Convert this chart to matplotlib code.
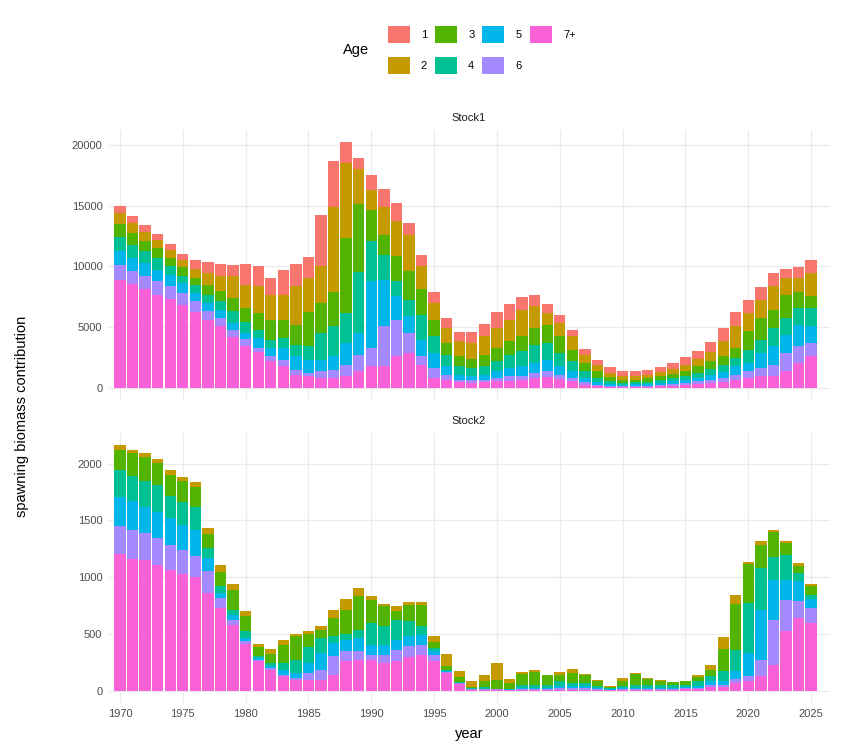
import matplotlib
matplotlib.use("Agg")
import matplotlib.pyplot as plt
from matplotlib.patches import Patch
import numpy as np

plt.rcParams["font.family"] = ["Liberation Sans", "DejaVu Sans"]

years = list(range(1970, 2026))
ages = ["1", "2", "3", "4", "5", "6", "7+"]
colors = ["#F8766D", "#C49A00", "#53B400", "#00C094", "#00B6EB", "#A58AFF", "#FB61D7"]

# ---- Stock1 contributions by age ----
s1_age1 = [600, 600, 550, 470, 470, 490, 710, 880, 1040, 960,
           1700, 1650, 1370, 2000, 1840, 1700, 4200, 3760, 1730, 910,
           1180, 1540, 1560, 960, 930, 960, 820, 740, 930, 1040,
           1290, 1320, 1100, 930, 770, 630, 550, 490, 410, 470,
           360, 360, 440, 410, 520, 600, 690, 770, 1100, 1180,
           1040, 1040, 1100, 770, 960, 1040]
s1_age2 = [880, 820, 740, 690, 690, 550, 740, 960, 1230, 1780,
           1920, 2190, 2060, 2060, 3150, 2830, 3020, 7000, 6170, 2850,
           1650, 2250, 2830, 3020, 1870, 1370, 1230, 1230, 1320, 1510,
           1650, 1780, 2190, 1780, 960, 1100, 1100, 690, 550, 330,
           330, 330, 270, 330, 410, 550, 600, 820, 1230, 1780,
           1510, 1510, 1920, 1370, 1100, 1870]
s1_age3 = [1100, 960, 900, 820, 690, 820, 550, 820, 820, 1100,
           1100, 1370, 1650, 1510, 1650, 2800, 2470, 2830, 6170, 5570,
           2610, 1650, 2110, 2330, 2110, 1370, 960, 820, 740, 960,
           1100, 1100, 1230, 1370, 1510, 1370, 960, 690, 550, 360,
           270, 220, 270, 330, 330, 410, 550, 630, 690, 820,
           1510, 1780, 1510, 1920, 1370, 1010]
s1_age4 = [1180, 1100, 960, 960, 690, 550, 690, 690, 690, 960,
           960, 690, 690, 820, 960, 1100, 2190, 2470, 2470, 5070,
           3290, 2060, 1230, 1370, 2060, 1370, 960, 690, 630, 690,
           820, 1100, 1230, 1510, 1370, 1100, 820, 550, 360, 220,
           140, 160, 190, 220, 270, 330, 410, 470, 600, 690,
           1100, 1100, 1510, 1370, 1370, 1510]
s1_age5 = [1100, 1100, 1100, 960, 960, 820, 690, 690, 690, 550,
           490, 820, 690, 960, 1100, 1100, 960, 1100, 1780, 1780,
           5490, 3840, 1920, 1370, 1370, 1230, 690, 410, 380, 410,
           550, 690, 770, 820, 960, 690, 550, 360, 190, 160,
           140, 140, 160, 160, 220, 220, 270, 410, 490, 690,
           690, 1230, 1510, 1510, 1780, 1370]
s1_age6 = [1230, 1010, 1040, 1150, 1040, 1010, 880, 740, 630, 600,
           600, 360, 410, 550, 410, 270, 550, 690, 960, 1370,
           1510, 3290, 3020, 1650, 690, 820, 410, 220, 220, 220,
           270, 360, 330, 410, 470, 360, 270, 190, 140, 80,
           55, 80, 80, 110, 160, 190, 250, 270, 330, 470,
           550, 690, 960, 1510, 1370, 1100]
s1_age7 = [8890, 8560, 8120, 7600, 7300, 6780, 6230, 5540, 5100, 4170,
           3400, 2910, 2170, 1760, 1070, 930, 800, 800, 930, 1340,
           1760, 1760, 2580, 2850, 1890, 800, 660, 440, 380, 440,
           520, 580, 660, 800, 880, 710, 520, 250, 110, 55,
           55, 55, 80, 110, 140, 190, 270, 380, 470, 600,
           800, 930, 930, 1340, 2030, 2580]

# ---- Stock2 contributions by age ----
s2_age1 = [0] * 56
s2_age2 = [44, 29, 35, 38, 38, 38, 44, 50, 62, 59,
           44, 29, 44, 38, 18, 21, 41, 68, 94, 68,
           41, 23, 44, 23, 21, 53, 106, 53, 50, 50,
           147, 35, 18, 15, 6, 26, 35, 6, 6, 6,
           29, 6, 9, 6, 6, 6, 15, 44, 103, 82,
           18, 29, 21, 21, 29, 15]
s2_age3 = [170, 200, 214, 191, 191, 185, 179, 126, 123, 170,
           132, 82, 79, 162, 211, 117, 68, 156, 211, 300,
           200, 176, 73, 147, 191, 50, 41, 38, 15, 59,
           76, 53, 97, 112, 82, 53, 88, 73, 44, 9,
           44, 97, 50, 32, 26, 29, 38, 53, 197, 402,
           344, 206, 223, 103, 59, 79]
s2_age4 = [241, 220, 226, 244, 191, 197, 197, 88, 59, 44,
           59, 15, 29, 59, 117, 141, 132, 65, 53, 73,
           191, 162, 176, 132, 73, 29, 9, 9, 6, 15,
           3, 3, 29, 29, 29, 44, 29, 29, 21, 9,
           18, 29, 29, 29, 23, 23, 38, 44, 88, 191,
           441, 367, 197, 220, 73, 38]
s2_age5 = [258, 256, 229, 226, 235, 220, 235, 117, 44, 44,
           29, 15, 15, 44, 44, 88, 147, 117, 103, 117,
           88, 88, 94, 88, 88, 29, 9, 6, 3, 3,
           3, 3, 9, 9, 9, 15, 15, 15, 9, 9,
           9, 9, 9, 9, 9, 9, 21, 35, 29, 68,
           206, 441, 352, 176, 176, 79]
s2_age6 = [241, 253, 235, 235, 220, 214, 182, 191, 88, 44,
           21, 15, 15, 15, 15, 59, 88, 162, 88, 73,
           44, 73, 97, 94, 88, 59, 6, 6, 3, 3,
           3, 3, 6, 6, 6, 15, 15, 15, 6, 3,
           3, 6, 6, 6, 6, 9, 9, 18, 21, 35,
           44, 147, 396, 279, 147, 132]
s2_age7 = [1207, 1160, 1154, 1110, 1066, 1028, 1002, 861, 728, 582,
           414, 258, 185, 126, 97, 97, 97, 141, 258, 273,
           273, 244, 258, 297, 317, 258, 156, 59, 9, 9,
           9, 6, 9, 9, 9, 9, 9, 9, 9, 6,
           9, 9, 9, 9, 9, 12, 15, 29, 32, 68,
           82, 126, 229, 523, 640, 596]

stocks = {
    "Stock1": [s1_age1, s1_age2, s1_age3, s1_age4, s1_age5, s1_age6, s1_age7],
    "Stock2": [s2_age1, s2_age2, s2_age3, s2_age4, s2_age5, s2_age6, s2_age7],
}
y_ticks = {
    "Stock1": [0, 5000, 10000, 15000, 20000],
    "Stock2": [0, 500, 1000, 1500, 2000],
}

W, H = 845, 742
fig = plt.figure(figsize=(W / 100, H / 100), dpi=100)
fig.patch.set_facecolor("white")

# panel boxes in pixels (left, top, right, bottom)
panels = {"Stock1": (108, 130, 830, 400), "Stock2": (108, 433, 830, 703)}

x = np.array(years)
for name, series in stocks.items():
    l, t, r, b = panels[name]
    ax = fig.add_axes([l / W, 1 - b / H, (r - l) / W, (b - t) / H])
    # ggplot stacks first level on top -> draw 7+ at the bottom
    bottom = np.zeros(len(years))
    for i in range(len(ages) - 1, -1, -1):
        vals = np.array(series[i], dtype=float)
        ax.bar(x, vals, width=0.9, bottom=bottom, color=colors[i], linewidth=0)
        bottom += vals
    top = bottom.max()
    ax.set_ylim(-0.05 * top, top * 1.05)
    ax.set_xlim(1969.05, 2026.5)
    ax.set_yticks(y_ticks[name])
    ax.set_yticklabels([str(v) for v in y_ticks[name]])
    ax.set_xticks(range(1970, 2026, 5))
    ax.grid(True, color="#EBEBEB", linewidth=0.9)
    ax.set_axisbelow(True)
    for sp in ax.spines.values():
        sp.set_visible(False)
    ax.tick_params(length=0, labelsize=8, labelcolor="#4D4D4D", pad=4)
    if name == "Stock1":
        ax.tick_params(labelbottom=False)
    ax.text(0.5, 1.0 + 12 / (b - t), name, transform=ax.transAxes,
            ha="center", va="center", fontsize=8, color="#1A1A1A")

fig.text(22 / W, 1 - 416 / H, "spawning biomass contribution", rotation=90,
         ha="center", va="center", fontsize=10.5, color="black")
fig.text(0.5 * (108 + 830) / W, 1 - 734 / H, "year", ha="center", va="center",
         fontsize=10.5, color="black")

handles = [Patch(facecolor=c, edgecolor="none") for c in colors]
fig.legend(handles, ages, ncol=4, loc="center left",
           bbox_to_anchor=(382 / W, 1 - 50 / H), frameon=False, fontsize=8,
           handlelength=2.0, handleheight=2.0, labelspacing=1.3,
           handletextpad=1.0, columnspacing=0.7, borderpad=0)
fig.text(356 / W, 1 - 50 / H, "Age", ha="center", va="center", fontsize=10.5)

fig.savefig("out.png", dpi=100, facecolor="white")
